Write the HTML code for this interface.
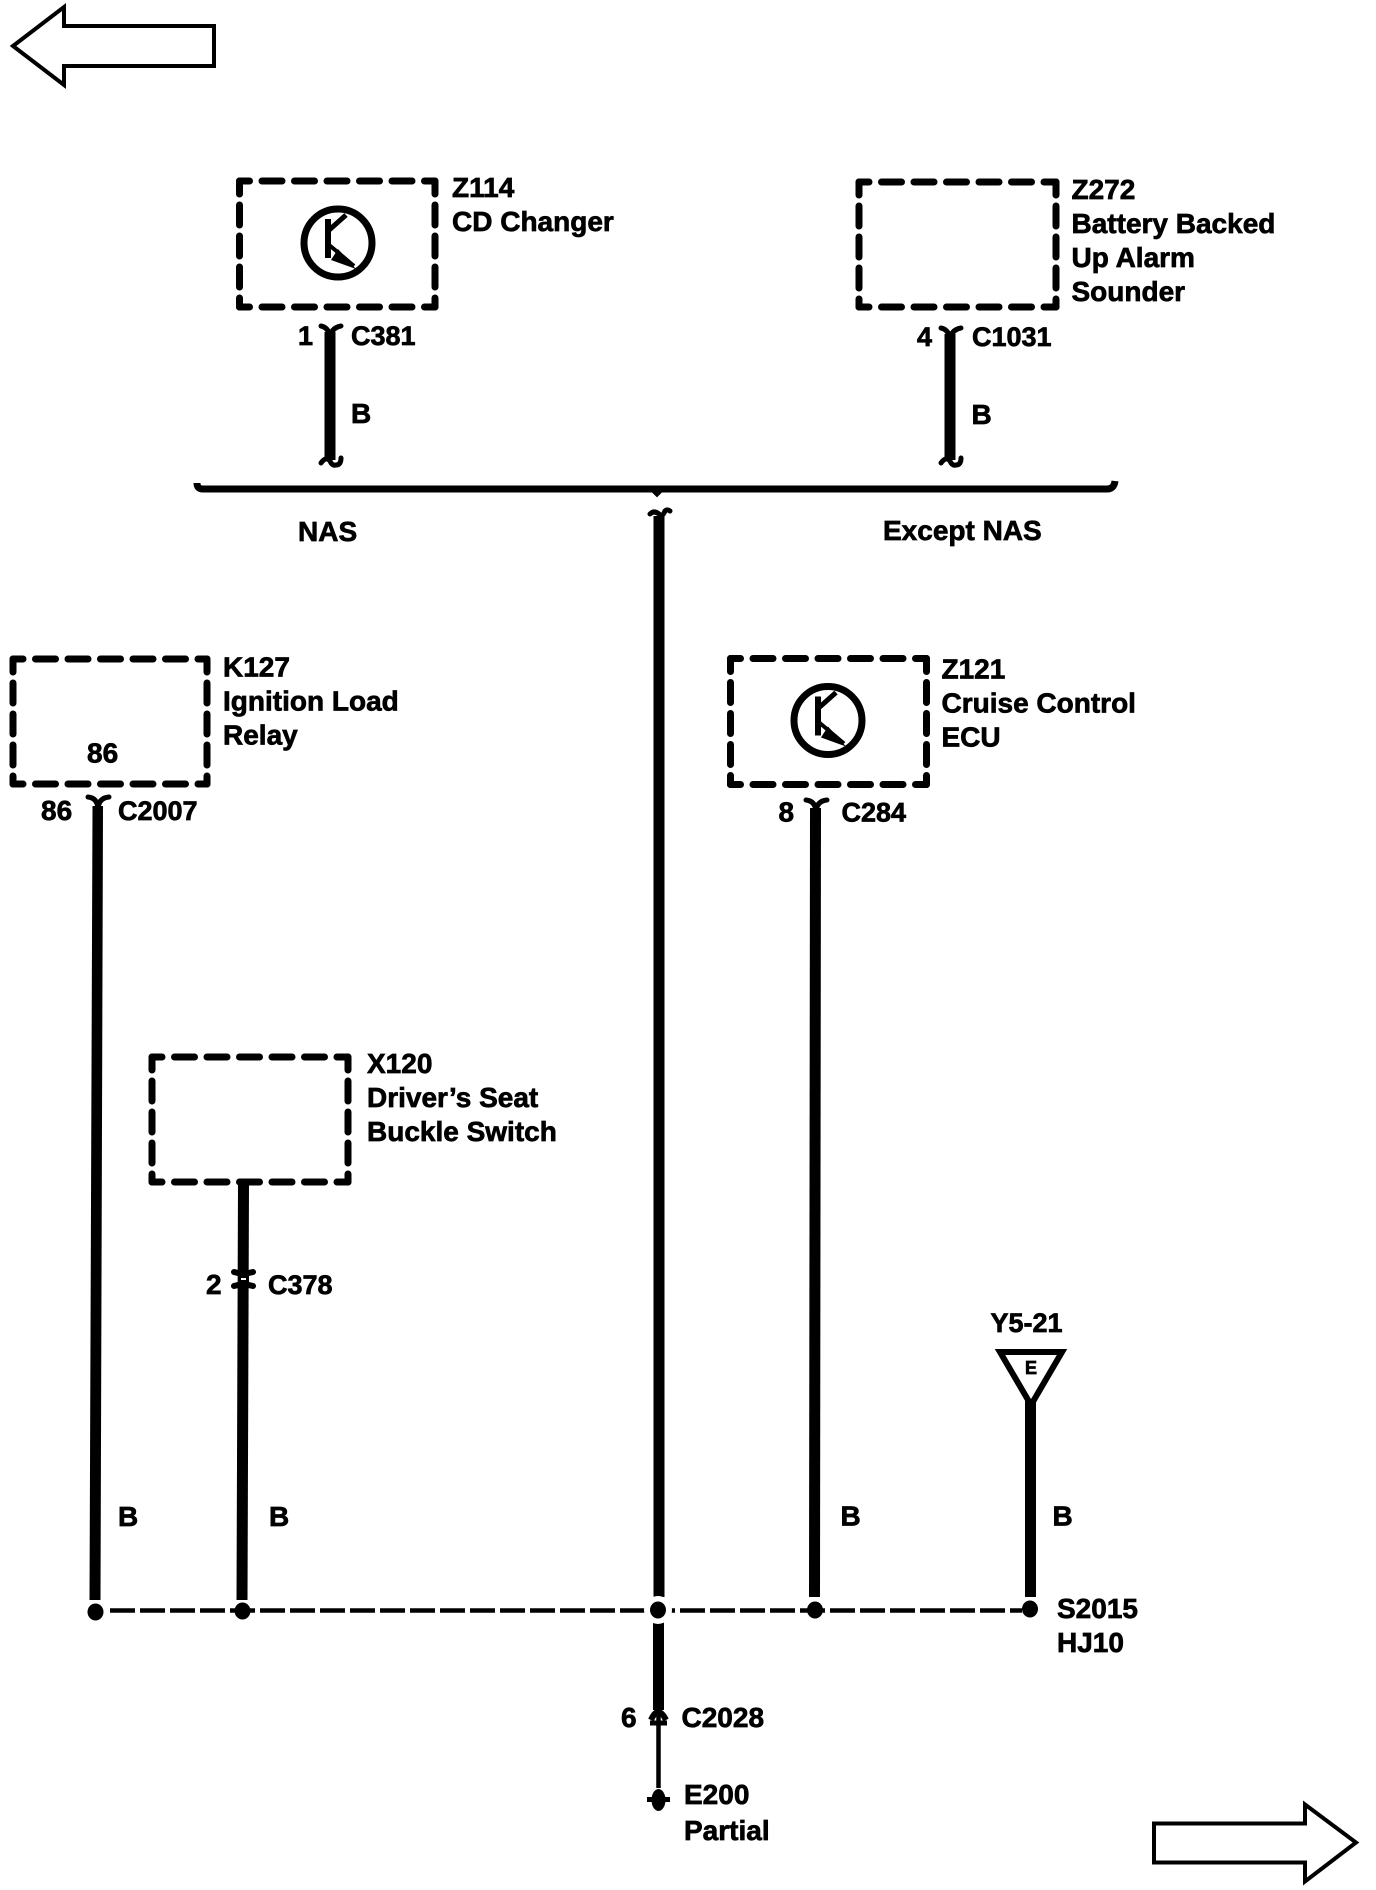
<!DOCTYPE html>
<html>
<head>
<meta charset="utf-8">
<style>
html,body{margin:0;padding:0;background:#fff;width:1376px;height:1890px;overflow:hidden}
svg{display:block}
text{font-family:"Liberation Sans",Arial,sans-serif;font-weight:bold;font-size:28px;fill:#000;stroke:#000;stroke-width:.7px}
text.s{font-size:27px}
.h{fill:none;stroke:#000;stroke-width:7;stroke-linecap:round;stroke-dasharray:20 12.500;stroke-dashoffset:10}
.v{fill:none;stroke:#000;stroke-width:7;stroke-linecap:round;stroke-dasharray:20 11;stroke-dashoffset:7}
.w{fill:none;stroke:#000;stroke-width:11}
.f{fill:none;stroke:#000;stroke-width:5;stroke-linecap:round}
.a{fill:#fff;stroke:#000;stroke-width:4;stroke-linejoin:miter}
</style>
</head>
<body>
<svg width="1376" height="1890" viewBox="0 0 1376 1890" xmlns="http://www.w3.org/2000/svg">
<rect width="1376" height="1890" fill="#fff"/>

<!-- page arrows -->
<polygon class="a" points="13,46 64,7 64,26 214,26 214,66 64,66 64,85"/>
<polygon class="a" points="1154,1823.500 1305,1823.500 1305,1804.500 1356,1842.500 1305,1881.500 1305,1862.500 1154,1862.500"/>

<!-- Z114 box -->
<path class="h" d="M239.500 181H435"/><path class="h" d="M239.500 307H435"/>
<path class="v" d="M239.500 181V307"/><path class="v" d="M435 181V307"/>
<!-- Z272 box -->
<path class="h" d="M859 182H1056"/><path class="h" d="M859 307H1056"/>
<path class="v" d="M859 182V307"/><path class="v" d="M1056 182V307"/>
<!-- K127 box -->
<path class="h" d="M13 659H207"/><path class="h" d="M13 784H207"/>
<path class="v" d="M13 659V784"/><path class="v" d="M207 659V784"/>
<!-- Z121 box -->
<path class="h" d="M730.500 658.500H926.500"/><path class="h" d="M730.500 784.500H926.500"/>
<path class="v" d="M730.500 658.500V784.500"/><path class="v" d="M926.500 658.500V784.500"/>
<!-- X120 box -->
<path class="h" d="M152 1057H348"/><path class="h" d="M152 1182H348"/>
<path class="v" d="M152 1057V1182"/><path class="v" d="M348 1057V1182"/>

<!-- transistor symbols -->
<g fill="none" stroke="#000">
<ellipse cx="338" cy="243" rx="34" ry="34" stroke-width="7"/>
<path d="M328 219V258" stroke-width="6"/>
<path d="M328 231L346 215" stroke-width="5"/>
<path d="M328 244L354 266" stroke-width="4"/>
<polygon points="338,249 356,269 331,260" fill="#000" stroke="none"/>
</g>
<g fill="none" stroke="#000" transform="translate(490 477.500)">
<ellipse cx="338" cy="243" rx="34" ry="34" stroke-width="7"/>
<path d="M328 219V258" stroke-width="6"/>
<path d="M328 231L346 215" stroke-width="5"/>
<path d="M328 244L354 266" stroke-width="4"/>
<polygon points="338,249 356,269 331,260" fill="#000" stroke="none"/>
</g>

<!-- top wires -->
<path class="w" d="M330 332V460"/>
<path class="f" d="M321 326Q330 328 330 340Q330 328 341 326"/>
<path class="f" d="M321 463Q326 456 330 461Q332 466 336 465Q341 465 341 458"/>
<path class="w" d="M950 334V460"/>
<path class="f" d="M941 328Q950 330 950 342Q950 330 961 328"/>
<path class="f" d="M941 463Q946 456 950 461Q952 466 956 465Q961 465 961 458"/>

<!-- bus -->
<path d="M197 483Q197 489 203 489H1107Q1114 489 1115 481" fill="none" stroke="#000" stroke-width="7"/>
<path d="M652 491L657 496L662 491Z" fill="#000" stroke="#000" stroke-width="2"/>

<!-- centre wire -->
<path class="w" d="M659 516V1597"/>
<path class="f" d="M650 514Q654 510 659 514Q662 518 665 511Q667 509 670 511"/>
<path class="w" d="M658.500 1622V1710"/>
<path d="M658.500 1710V1788" fill="none" stroke="#000" stroke-width="4.500"/>

<!-- other wires -->
<path d="M92.500 806H103L100.500 1600H89.500Z" fill="#000"/>
<path class="f" d="M88 797Q98 798 98 810Q98 798 109 797"/>
<path d="M238 1184H249L247.500 1600H236.500Z" fill="#000"/>
<path d="M234 1272Q243 1275 253 1272M234 1286Q243 1283 253 1286" fill="none" stroke="#000" stroke-width="6" stroke-linecap="round"/>
<rect x="238" y="1275" width="11" height="9" fill="#000"/>
<rect x="241" y="1278" width="5" height="2" fill="#fff"/>
<path d="M810 808H821L820 1597H809Z" fill="#000"/>
<path class="f" d="M806 800Q816 801 816 813Q816 801 827 800"/>
<path class="w" d="M1030.500 1398V1597"/>

<!-- dashed bar -->
<path d="M110 1610.500H1022" fill="none" stroke="#000" stroke-width="4.500" stroke-dasharray="25 5"/>
<circle cx="658" cy="1610" r="14" fill="#fff"/>
<ellipse cx="95.500" cy="1612" rx="8" ry="8.500" fill="#000"/>
<ellipse cx="242.500" cy="1611" rx="8" ry="8.500" fill="#000"/>
<ellipse cx="658" cy="1610" rx="8" ry="8.500" fill="#000"/>
<ellipse cx="815" cy="1610" rx="8" ry="8.500" fill="#000"/>
<ellipse cx="1030" cy="1609" rx="8" ry="8.500" fill="#000"/>

<!-- triangle -->
<polygon points="1000,1352 1062,1352 1031,1405" fill="#fff" stroke="#000" stroke-width="6"/>
<text x="1025" y="1374" style="font-size:18px">E</text>

<!-- C2028 connector -->
<path d="M651 1720Q658 1704 666 1720" fill="none" stroke="#000" stroke-width="6"/>
<path d="M650 1723L667 1723" stroke="#000" stroke-width="5"/>
<!-- ground -->
<ellipse cx="658.500" cy="1800" rx="7" ry="11" fill="#000"/>
<rect x="647" y="1797" width="23" height="5" fill="#000"/>

<!-- labels -->
<text x="452" y="197">Z114</text>
<text x="452" y="231">CD Changer</text>
<text x="1071.500" y="199">Z272</text>
<text x="1071.500" y="233">Battery Backed</text>
<text x="1071.500" y="267">Up Alarm</text>
<text x="1071.500" y="301">Sounder</text>
<text class="s" x="298" y="345">1</text>
<text class="s" x="351" y="345">C381</text>
<text x="351" y="423">B</text>
<text class="s" x="917" y="346">4</text>
<text class="s" x="972" y="346">C1031</text>
<text x="971.500" y="424">B</text>
<text x="298" y="541">NAS</text>
<text x="883" y="540">Except NAS</text>
<text x="223" y="676.500">K127</text>
<text x="223" y="710.500">Ignition Load</text>
<text x="223" y="744.500">Relay</text>
<text x="87" y="762.500">86</text>
<text x="41" y="820">86</text>
<text class="s" x="118" y="820">C2007</text>
<text x="941.500" y="678.500">Z121</text>
<text x="941.500" y="712.500">Cruise Control</text>
<text x="941.500" y="746.500">ECU</text>
<text x="778.500" y="821.500">8</text>
<text class="s" x="841.500" y="821.500">C284</text>
<text x="367" y="1073">X120</text>
<text x="367" y="1107">Driver’s Seat</text>
<text x="367" y="1141">Buckle Switch</text>
<text x="206" y="1294">2</text>
<text class="s" x="268" y="1294">C378</text>
<text x="118" y="1526">B</text>
<text x="269" y="1526">B</text>
<text x="840.500" y="1525.500">B</text>
<text x="1052.500" y="1525.500">B</text>
<text class="s" x="990.500" y="1332">Y5-21</text>
<text x="1057" y="1618">S2015</text>
<text x="1057" y="1652">HJ10</text>
<text x="621" y="1727">6</text>
<text x="681.500" y="1727">C2028</text>
<text x="684" y="1804">E200</text>
<text x="684" y="1840">Partial</text>
</svg>
</body>
</html>
